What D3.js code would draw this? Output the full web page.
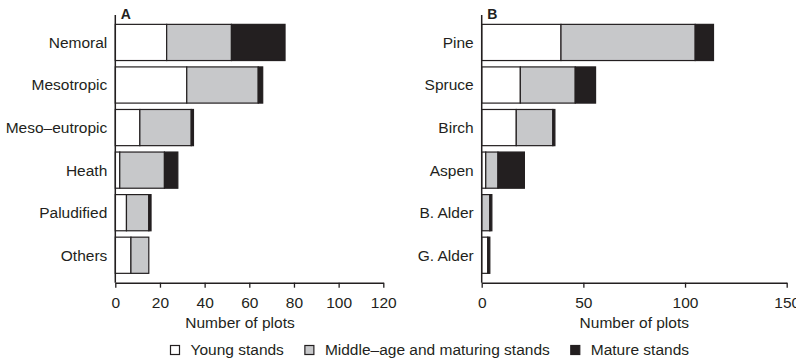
<!DOCTYPE html>
<html>
<head>
<meta charset="utf-8">
<script src="https://cdn.jsdelivr.net/npm/d3@7"></script>
<style>
    body { margin: 0; background: #fff; }
    svg { display: block; font-family: "Liberation Sans", Arial, sans-serif; }
</style>
</head>
<body>
<svg id="chart" width="796" height="361"></svg>
<script>
var habitats = ["Nemoral", "Mesotropic", "Meso\u2013eutropic", "Heath", "Paludified", "Others"];
var habYoung = [23, 32, 11, 2, 5, 7];
var habMiddle = [29, 32, 23, 20, 10, 8];
var habMature = [24, 2, 1, 6, 1, 0];

var species = ["Pine", "Spruce", "Birch", "Aspen", "B. Alder", "G. Alder"];
var spYoung = [39, 19, 17, 2, 0, 3];
var spMiddle = [66, 27, 18, 6, 4, 0];
var spMature = [9, 10, 1, 13, 1, 1];

var ticksA = [0, 20, 40, 60, 80, 100, 120];
var ticksB = [0, 50, 100, 150];

var legendLabels = ["Young stands", "Middle\u2013age and maturing stands", "Mature stands"];
var fills = ["#ffffff", "#c7c8ca", "#231f20"];
var ink = "#231f20";
var fontSize = 15.5;

var svg = d3.select("#chart");

function panel(opts) {
    var x = d3.scaleLinear().domain([0, opts.max]).range(opts.xRange);
    var y = d3.scaleBand().domain(opts.cats).range([15, 282.7]).paddingInner(0.15).paddingOuter(0.22);
    var g = svg.append("g");

    // stack the three series per category
    var rows = opts.cats.map(function(c, i) {
        var vals = [opts.young[i], opts.middle[i], opts.mature[i]];
        var start = 0;
        return vals.map(function(v, k) {
            var seg = { cat: c, k: k, x0: start, x1: start + v };
            start += v;
            return seg;
        }).filter(function(s) { return s.x1 > s.x0; });
    });

    g.selectAll("g.row")
        .data(rows)
        .enter().append("g")
        .attr("class", "row")
        .selectAll("rect")
        .data(function(d) { return d; })
        .enter().append("rect")
        .attr("x", function(d) { return x(d.x0); })
        .attr("width", function(d) { return x(d.x1) - x(d.x0); })
        .attr("y", function(d) { return y(d.cat); })
        .attr("height", y.bandwidth())
        .style("fill", function(d) { return fills[d.k]; })
        .style("stroke", ink)
        .style("stroke-width", 1.2);

    // x axis
    var xAxis = g.append("g")
        .attr("transform", "translate(0,282.7)")
        .call(d3.axisBottom(x).tickValues(opts.ticks).tickSize(5).tickSizeOuter(0).tickPadding(9.5));
    xAxis.select(".domain").attr("stroke", ink).attr("stroke-width", 1.5);
    xAxis.selectAll(".tick line").attr("stroke", ink).attr("stroke-width", 1.3);
    xAxis.selectAll(".tick text")
        .attr("fill", ink)
        .style("font-size", fontSize + "px")
        .style("font-family", "Liberation Sans, Arial, sans-serif");

    // y axis: plain line with category labels
    g.append("line")
        .attr("x1", x(0)).attr("x2", x(0))
        .attr("y1", 15).attr("y2", 282.7)
        .attr("stroke", ink).attr("stroke-width", 1.5);

    g.selectAll("text.cat")
        .data(opts.cats)
        .enter().append("text")
        .attr("class", "cat")
        .attr("x", x(0) - 8)
        .attr("y", function(d) { return y(d) + y.bandwidth() / 2; })
        .attr("dy", "0.35em")
        .attr("text-anchor", "end")
        .style("font-size", fontSize + "px")
        .style("fill", ink)
        .text(function(d) { return d; });

    g.append("text")
        .attr("x", x(0) + 5.5)
        .attr("y", 19)
        .style("font-size", "14px")
        .style("font-weight", "bold")
        .style("fill", ink)
        .text(opts.label);

    g.append("text")
        .attr("x", opts.titleX)
        .attr("y", 327.5)
        .attr("text-anchor", "middle")
        .style("font-size", fontSize + "px")
        .style("fill", ink)
        .text("Number of plots");
}

panel({ label: "A", cats: habitats, young: habYoung, middle: habMiddle, mature: habMature,
        max: 120, ticks: ticksA, xRange: [115.3, 383.3], titleX: 240 });
panel({ label: "B", cats: species, young: spYoung, middle: spMiddle, mature: spMature,
        max: 150, ticks: ticksB, xRange: [481.7, 786.7], titleX: 634.3 });

// legend
var legend = svg.append("g").attr("class", "legend");
var lx = 170.5;
legendLabels.forEach(function(label, i) {
    legend.append("rect")
        .attr("x", lx).attr("y", 345.5)
        .attr("width", 9).attr("height", 9)
        .style("fill", fills[i])
        .style("stroke", ink)
        .style("stroke-width", 1.2);
    var t = legend.append("text")
        .attr("x", lx + 20)
        .attr("y", 355)
        .style("font-size", fontSize + "px")
        .style("fill", ink)
        .text(label);
    lx += 20 + t.node().getComputedTextLength() + 21;
});
</script>
</body>
</html>
